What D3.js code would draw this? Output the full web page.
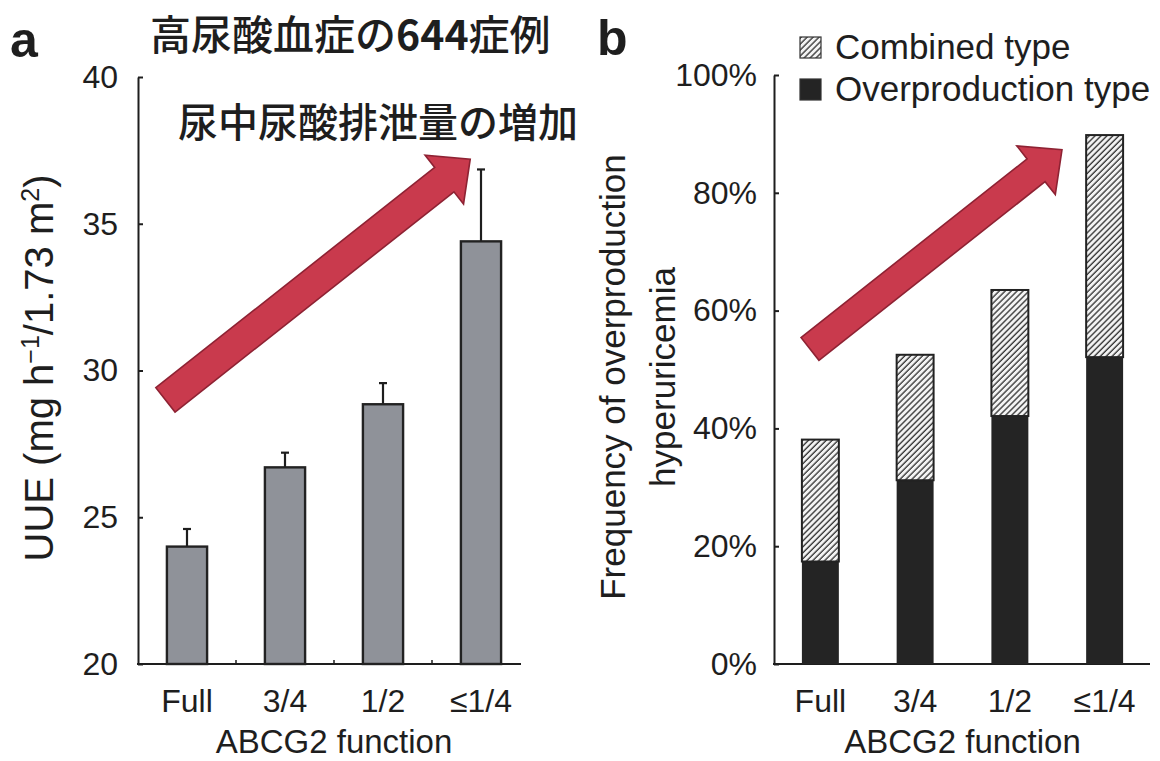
<!DOCTYPE html>
<html>
<head>
<meta charset="utf-8">
<script src="https://cdn.jsdelivr.net/npm/d3@7"></script>
<style>
  html, body { margin: 0; padding: 0; background: #ffffff; }
  svg { display: block; }
  text { font-family: "Liberation Sans", Arial, Helvetica, sans-serif; fill: #1e1e1e; }
  .jp { font-family: "Noto Sans CJK JP", sans-serif; }
</style>
</head>
<body>
<svg id="chart" width="1160" height="761"></svg>
<script>
// ABCG2 function groups
const categories = ["Full", "3/4", "1/2", "≤1/4"];

// Panel a: urinary urate excretion, mean and upper error
const uueMean = [24.0, 26.7, 28.85, 34.4];
const uueErr  = [0.6, 0.5, 0.72, 2.45];
const uueTicks = [20, 25, 30, 35, 40];

// Panel b: frequency of overproduction hyperuricemia (%)
const overproduction = [17.4, 31.2, 42.1, 52.1];
const combined       = [20.7, 21.3, 21.4, 37.7];
const freqTicks = [0, 20, 40, 60, 80, 100];
const legendLabels = ["Combined type", "Overproduction type"];

// Trend arrows, given as [category position, value] pairs
const trendA = [[-0.22, 29.0], [2.89, 37.2]];
const trendB = [[-0.11, 53.5], [2.55, 87.3]];

const svg = d3.select("#chart");
const ink = "#1e1e1e";

// hatch fill used for the combined-type segments
const defs = svg.append("defs");
const hatch = defs.append("pattern")
  .attr("id", "hatch")
  .attr("patternUnits", "userSpaceOnUse")
  .attr("width", 4.2).attr("height", 4.2)
  .attr("patternTransform", "rotate(45)");
hatch.append("rect").attr("width", 4.2).attr("height", 4.2).attr("fill", "#f4f4f4");
hatch.append("line").attr("x1", 1).attr("y1", 0).attr("x2", 1).attr("y2", 4.2)
  .attr("stroke", "#3a3a3a").attr("stroke-width", 1.4);

function drawArrow(g, x0, y0, x1, y1, shaftHalf, headHalf, headLen) {
  const L = Math.hypot(x1 - x0, y1 - y0);
  const ang = Math.atan2(y1 - y0, x1 - x0) * 180 / Math.PI;
  const pts = [
    [0, -shaftHalf], [L - headLen, -shaftHalf], [L - headLen, -headHalf],
    [L, 0], [L - headLen, headHalf], [L - headLen, shaftHalf], [0, shaftHalf]
  ];
  g.append("polygon")
    .attr("points", pts.map(p => p.join(",")).join(" "))
    .attr("transform", `translate(${x0},${y0}) rotate(${ang})`)
    .attr("fill", "#c93a4d")
    .attr("stroke", "#8e2233")
    .attr("stroke-width", 1.6)
    .attr("stroke-linejoin", "miter");
}

// ---------------- Panel a ----------------
{
  const x = d3.scaleBand().domain(categories).range([138, 530])
    .paddingInner(0.59).paddingOuter(0.295);
  const y = d3.scaleLinear().domain([20, 40]).range([664, 77]);
  const g = svg.append("g");

  // y axis with inward ticks
  const yAxis = g.append("g").attr("transform", "translate(138,0)")
    .call(d3.axisLeft(y).tickValues(uueTicks).tickSizeInner(-5).tickSizeOuter(0).tickPadding(20));
  yAxis.select(".domain").attr("stroke", ink).attr("stroke-width", 2);
  yAxis.selectAll(".tick line").attr("stroke", ink).attr("stroke-width", 2);
  yAxis.selectAll(".tick text").attr("font-size", 32).attr("fill", "#222");

  // x axis baseline with small separators between groups
  g.append("line").attr("x1", 137).attr("x2", 521).attr("y1", y(20)).attr("y2", y(20))
    .attr("stroke", ink).attr("stroke-width", 2.2);
  const step = x.step();
  g.selectAll(".sep").data(categories.slice(1)).join("line")
    .attr("x1", d => x(d) - (step - x.bandwidth()) / 2)
    .attr("x2", d => x(d) - (step - x.bandwidth()) / 2)
    .attr("y1", y(20)).attr("y2", y(20) - 4)
    .attr("stroke", ink).attr("stroke-width", 1.5);

  // error bars (upper only)
  g.selectAll(".err").data(categories).join("g").each(function(d, i) {
    const cx = x(d) + x.bandwidth() / 2;
    const s = d3.select(this);
    s.append("line").attr("x1", cx).attr("x2", cx)
      .attr("y1", y(uueMean[i])).attr("y2", y(uueMean[i] + uueErr[i]))
      .attr("stroke", ink).attr("stroke-width", 2.2);
    s.append("line").attr("x1", cx - 4).attr("x2", cx + 4)
      .attr("y1", y(uueMean[i] + uueErr[i])).attr("y2", y(uueMean[i] + uueErr[i]))
      .attr("stroke", ink).attr("stroke-width", 2.2);
  });

  // bars
  g.selectAll(".bar").data(categories).join("rect")
    .attr("x", d => x(d)).attr("width", x.bandwidth())
    .attr("y", (d, i) => y(uueMean[i]))
    .attr("height", (d, i) => y(20) - y(uueMean[i]))
    .attr("fill", "#8f9299").attr("stroke", "#222").attr("stroke-width", 2.4);

  // category labels
  g.selectAll(".cat").data(categories).join("text")
    .attr("x", d => x(d) + x.bandwidth() / 2).attr("y", 712)
    .attr("text-anchor", "middle").attr("font-size", 32).text(d => d);

  g.append("text").attr("x", (x(categories[0]) + x(categories[3]) + x.bandwidth()) / 2)
    .attr("y", 753).attr("text-anchor", "middle").attr("font-size", 33).text("ABCG2 function");

  // y axis title
  const yt = g.append("text").attr("transform", "translate(53,368) rotate(-90)")
    .attr("text-anchor", "middle").attr("font-size", 40);
  yt.append("tspan").text("UUE (mg h");
  yt.append("tspan").attr("font-size", 25).attr("dy", -14).text("−1");
  yt.append("tspan").attr("dy", 14).text("/1.73 m");
  yt.append("tspan").attr("font-size", 25).attr("dy", -14).text("2");
  yt.append("tspan").attr("dy", 14).text(")");

  // trend arrow
  const px = p => x(categories[0]) + x.bandwidth() / 2 + p[0] * step;
  drawArrow(g, px(trendA[0]), y(trendA[0][1]), px(trendA[1]), y(trendA[1][1]), 15.5, 31, 33);

  // panel letter and annotations
  g.append("text").attr("x", 10).attr("y", 57).attr("font-size", 50).attr("font-weight", "bold").text("a");
  const t1 = g.append("text").attr("class", "jp").attr("x", 150).attr("y", 50).attr("font-size", 41);
  t1.append("tspan").attr("font-weight", 500).text("高尿酸血症の");
  t1.append("tspan").attr("font-weight", 700).text("644");
  t1.append("tspan").attr("font-weight", 500).text("症例");
  g.append("text").attr("class", "jp").attr("x", 178).attr("y", 137).attr("font-size", 40)
    .attr("font-weight", 500).text("尿中尿酸排泄量の増加");
}

// ---------------- Panel b ----------------
{
  const x = d3.scaleBand().domain(categories).range([773, 1152])
    .paddingInner(0.61).paddingOuter(0.305);
  const y = d3.scaleLinear().domain([0, 100]).range([664, 75]);
  const g = svg.append("g");

  const yAxis = g.append("g").attr("transform", "translate(774,0)")
    .call(d3.axisLeft(y).tickValues(freqTicks).tickFormat(d => d + "%")
      .tickSizeInner(-5).tickSizeOuter(0).tickPadding(17));
  yAxis.select(".domain").attr("stroke", ink).attr("stroke-width", 2);
  yAxis.selectAll(".tick line").attr("stroke", ink).attr("stroke-width", 2);
  yAxis.selectAll(".tick text").attr("font-size", 32).attr("fill", "#222");

  g.append("line").attr("x1", 773).attr("x2", 1150).attr("y1", y(0)).attr("y2", y(0))
    .attr("stroke", ink).attr("stroke-width", 2.2);

  const stacked = d3.stack().keys(["over", "comb"])(
    categories.map((c, i) => ({ cat: c, over: overproduction[i], comb: combined[i] })));

  // overproduction segments
  g.selectAll(".over").data(stacked[0]).join("rect")
    .attr("x", d => x(d.data.cat)).attr("width", x.bandwidth())
    .attr("y", d => y(d[1])).attr("height", d => y(d[0]) - y(d[1]))
    .attr("fill", "#242424");

  // combined segments
  g.selectAll(".comb").data(stacked[1]).join("rect")
    .attr("x", d => x(d.data.cat)).attr("width", x.bandwidth())
    .attr("y", d => y(d[1])).attr("height", d => y(d[0]) - y(d[1]))
    .attr("fill", "url(#hatch)").attr("stroke", "#222").attr("stroke-width", 2);

  g.selectAll(".cat").data(categories).join("text")
    .attr("x", d => x(d) + x.bandwidth() / 2).attr("y", 712)
    .attr("text-anchor", "middle").attr("font-size", 32).text(d => d);

  g.append("text").attr("x", (x(categories[0]) + x(categories[3]) + x.bandwidth()) / 2)
    .attr("y", 753).attr("text-anchor", "middle").attr("font-size", 33).text("ABCG2 function");

  g.append("text").attr("transform", "translate(625,377) rotate(-90)")
    .attr("text-anchor", "middle").attr("font-size", 35).text("Frequency of overproduction");
  g.append("text").attr("transform", "translate(675,377) rotate(-90)")
    .attr("text-anchor", "middle").attr("font-size", 35).text("hyperuricemia");

  // legend
  const fills = ["url(#hatch)", "#242424"];
  const lg = g.selectAll(".lg").data(legendLabels).join("g")
    .attr("transform", (d, i) => `translate(800,${37 + i * 42})`);
  lg.append("rect").attr("width", 21).attr("height", 21)
    .attr("fill", (d, i) => fills[i]).attr("stroke", "#333").attr("stroke-width", 1.2);
  lg.append("text").attr("x", 35).attr("y", 22).attr("font-size", 35).text(d => d);

  const step = x.step();
  const px = p => x(categories[0]) + x.bandwidth() / 2 + p[0] * step;
  drawArrow(g, px(trendB[0]), y(trendB[0][1]), px(trendB[1]), y(trendB[1][1]), 14.5, 31, 33);

  g.append("text").attr("x", 597).attr("y", 55).attr("font-size", 50).attr("font-weight", "bold").text("b");
}
</script>
</body>
</html>
